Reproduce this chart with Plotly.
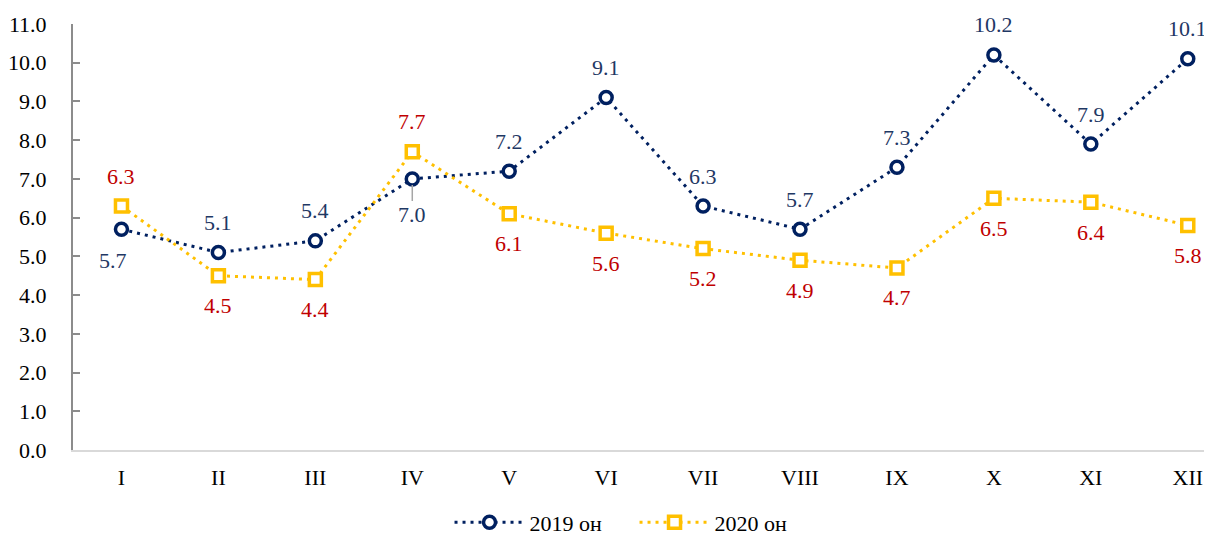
import plotly.graph_objects as go

months = ["I", "II", "III", "IV", "V", "VI", "VII", "VIII", "IX", "X", "XI", "XII"]
v2019 = [5.7, 5.1, 5.4, 7.0, 7.2, 9.1, 6.3, 5.7, 7.3, 10.2, 7.9, 10.1]
v2020 = [6.3, 4.5, 4.4, 7.7, 6.1, 5.6, 5.2, 4.9, 4.7, 6.5, 6.4, 5.8]
name2019 = "2019 он"
name2020 = "2020 он"
# label placement: +1 above, -1 below
pos2019 = [-1, 1, 1, -1, 1, 1, 1, 1, 1, 1, 1, 1]
pos2020 = [1, -1, -1, 1, -1, -1, -1, -1, -1, -1, -1, -1]

NAVY = "#002060"
GOLD = "#FFC000"
RED = "#C00000"
LBL = "#1F3864"
FONT = "Liberation Serif"
FS = 22

fig = go.Figure()
fig.add_trace(go.Scatter(
    x=months, y=v2019, name=name2019, mode="lines+markers",
    line=dict(color=NAVY, width=3, dash="3px,5px"),
    marker=dict(symbol="circle", size=12, color="white", line=dict(width=3.5, color=NAVY)),
))
fig.add_trace(go.Scatter(
    x=months, y=v2020, name=name2020, mode="lines+markers",
    line=dict(color=GOLD, width=3, dash="3px,5px"),
    marker=dict(symbol="square", size=12, color="white", line=dict(width=3.5, color=GOLD)),
))

ann = []
for m, v, p in zip(months, v2019, pos2019):
    f = dict(family=FONT, size=FS, color=LBL)
    if m == "IV":
        ann.append(dict(x=m, y=v, text=f"{v:.1f}", showarrow=True, arrowhead=0,
                        arrowcolor="#A6A6A6", arrowwidth=1.5, ax=0, ay=36, standoff=6,
                        font=f))
    elif m == "I":
        ann.append(dict(x=m, y=v, text=f"{v:.1f}", showarrow=False, yshift=-31, xshift=-8,
                        font=f))
    else:
        ann.append(dict(x=m, y=v, text=f"{v:.1f}", showarrow=False, yshift=30 * p, font=f))
for m, v, p in zip(months, v2020, pos2020):
    ann.append(dict(x=m, y=v, text=f"{v:.1f}", showarrow=False, yshift=30 * p,
                    font=dict(family=FONT, size=FS, color=RED)))

fig.update_layout(
    width=1204, height=544,
    margin=dict(l=62, r=0, t=16, b=102),
    paper_bgcolor="white", plot_bgcolor="white",
    font=dict(family=FONT, size=FS, color="black"),
    annotations=ann,
    showlegend=True,
    legend=dict(orientation="h", x=0.493, xanchor="center", y=-0.170, yanchor="middle",
                font=dict(family=FONT, size=FS, color="black"),
                traceorder="normal", itemwidth=70, entrywidth=100),
    xaxis=dict(
        range=[-0.5, 11.25], showgrid=False, zeroline=False,
        showline=True, linecolor="#D9D9D9", linewidth=2,
        ticks="", tickfont=dict(family=FONT, size=FS, color="black"),
        ticklabelstandoff=7,
    ),
    yaxis=dict(
        range=[0, 11], dtick=1, tickformat=".1f", showgrid=False, zeroline=False,
        showline=True, linecolor="#8C8C8C", linewidth=2,
        ticks="inside", ticklen=7, tickcolor="#8C8C8C", tickwidth=1.5,
        tickfont=dict(family=FONT, size=FS, color="black"),
        ticklabelstandoff=20,
    ),
)

fig.write_html("out.html")
